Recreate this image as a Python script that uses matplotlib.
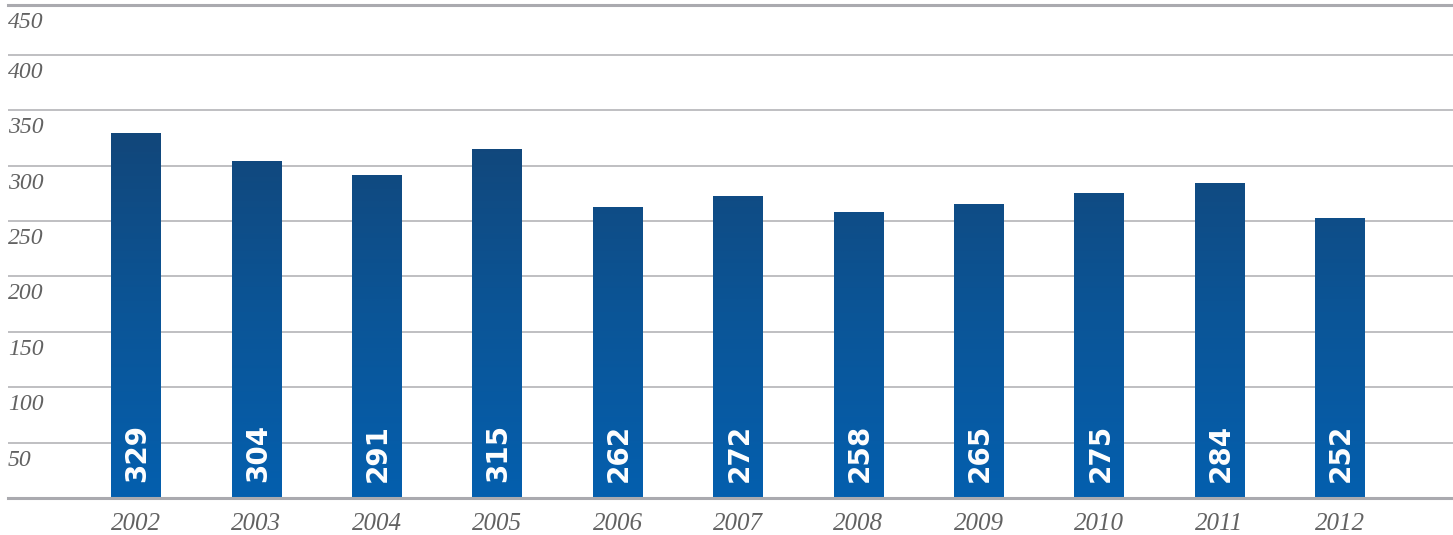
import matplotlib
matplotlib.use("Agg")
import matplotlib.pyplot as plt
import matplotlib.transforms as mtransforms
from matplotlib.colors import LinearSegmentedColormap
import numpy as np

years = ["2002", "2003", "2004", "2005", "2006", "2007", "2008", "2009", "2010", "2011", "2012"]
values = [329, 304, 291, 315, 262, 272, 258, 265, 275, 284, 252]
y_ticks = [50, 100, 150, 200, 250, 300, 350, 400, 450]

GRID = "#b4b4b8"
LABEL = "#626262"
bar_cmap = LinearSegmentedColormap.from_list("bar", ["#045fae", "#0b5597", "#124679"])
GRAD_TOP = 335  # value at which the gradient reaches its darkest colour

fig = plt.figure(figsize=(14.53, 5.35), dpi=100)
ax = fig.add_axes([8 / 1453, 37 / 535, 1 - 8 / 1453, 493 / 535])

for s in ["left", "right"]:
    ax.spines[s].set_visible(False)
for s in ["top", "bottom"]:
    ax.spines[s].set_color("#aaaaaf")
    ax.spines[s].set_linewidth(2.2)
ax.set_xticks([])
ax.set_yticks([])
ax.set_xlim(-1.063, 10.94)
ax.set_ylim(0, 445)

for t in y_ticks:
    if t < ax.get_ylim()[1]:
        ax.axhline(t, color=GRID, lw=1.2, zorder=0)

# tick labels sit just under each gridline
trans = mtransforms.blended_transform_factory(ax.transAxes, ax.transData)
for t in y_ticks:
    yy = min(t, ax.get_ylim()[1])
    ax.annotate(str(t), xy=(0, yy), xycoords=trans, xytext=(0, -5),
                textcoords="offset points", ha="left", va="top",
                fontsize=17, fontstyle="italic", family="Liberation Serif",
                color=LABEL)

width = 0.41
for i, (yr, v) in enumerate(zip(years, values)):
    grad = np.linspace(0, v / GRAD_TOP, 256).reshape(-1, 1)
    ax.imshow(grad, cmap=bar_cmap, vmin=0, vmax=1, origin="lower", aspect="auto",
              extent=[i - width / 2, i + width / 2, 0, v], zorder=2)
    ax.annotate(str(v), xy=(i, 0), xytext=(1, 11.5), textcoords="offset points",
                rotation=90, ha="center", va="bottom", fontsize=20,
                fontweight="bold", family="DejaVu Sans", color="white", zorder=3)
    ax.annotate(yr, xy=(i, 0), xytext=(0, -19), textcoords="offset points",
                ha="center", va="center", fontsize=18, fontstyle="italic",
                family="Liberation Serif", color=LABEL, annotation_clip=False)

ax.set_xlim(-1.063, 10.94)
ax.set_ylim(0, 445)

fig.savefig("out.png", dpi=100)
